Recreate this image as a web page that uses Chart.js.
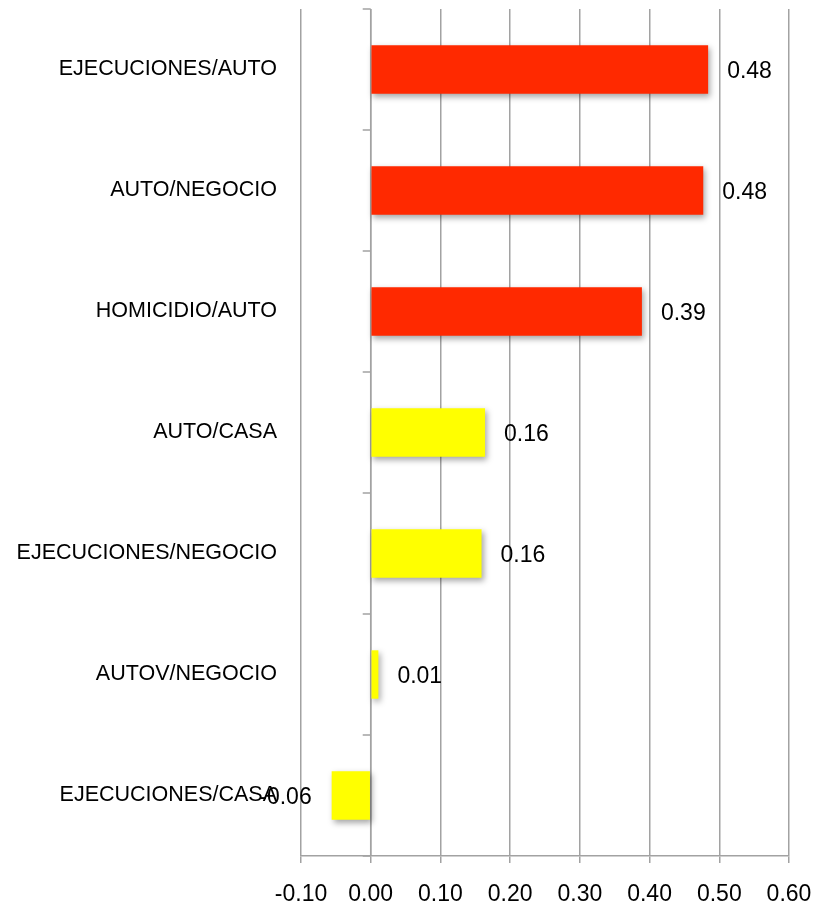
<!DOCTYPE html>
<html>
<head>
<meta charset="utf-8">
<script src="https://cdn.jsdelivr.net/npm/chart.js@4/dist/chart.umd.min.js"></script>
<style>
  body { margin: 0; background: #fff; }
  canvas { display: block; }
</style>
</head>
<body>
<canvas id="barras" width="827" height="904"></canvas>
<script>
// categorias y valores
var categorias = ['EJECUCIONES/AUTO', 'AUTO/NEGOCIO', 'HOMICIDIO/AUTO', 'AUTO/CASA',
                  'EJECUCIONES/NEGOCIO', 'AUTOV/NEGOCIO', 'EJECUCIONES/CASA'];
var valores = [0.484, 0.477, 0.389, 0.164, 0.159, 0.011, -0.056];
var colores = ['#FF2900', '#FF2900', '#FF2900', '#FFFF00', '#FFFF00', '#FFFF00', '#FFFF00'];
var ejeX = [-0.10, 0.00, 0.10, 0.20, 0.30, 0.40, 0.50, 0.60];

var gris = '#a2a2a2';
Chart.defaults.font.family = "'Liberation Sans', Arial, sans-serif";
Chart.defaults.color = '#000';

// sombra bajo las barras
var sombra = {
  id: 'sombra',
  beforeDatasetsDraw: function(chart) {
    var ctx = chart.ctx;
    ctx.save();
    ctx.shadowColor = 'rgba(0,0,0,0.35)';
    ctx.shadowBlur = 6;
    ctx.shadowOffsetX = 2;
    ctx.shadowOffsetY = 3;
  },
  afterDatasetsDraw: function(chart) {
    chart.ctx.restore();
  }
};

// eje vertical en cero con sus marcas
var ejeCero = {
  id: 'ejeCero',
  beforeDatasetsDraw: function(chart) {
    var ctx = chart.ctx;
    var x0 = chart.scales.x.getPixelForValue(0);
    var y = chart.scales.y;
    ctx.save();
    ctx.strokeStyle = gris;
    ctx.lineWidth = 1.5;
    ctx.beginPath();
    ctx.moveTo(x0, chart.chartArea.top);
    ctx.lineTo(x0, chart.chartArea.bottom);
    for (var i = 0; i <= categorias.length; i++) {
      var py = y.getPixelForValue(i - 0.5);
      ctx.moveTo(x0 - 8, py);
      ctx.lineTo(x0, py);
    }
    ctx.stroke();
    ctx.restore();
  }
};

// etiquetas de valor
var etiquetas = {
  id: 'etiquetas',
  afterDatasetsDraw: function(chart) {
    var ctx = chart.ctx;
    var meta = chart.getDatasetMeta(0);
    ctx.save();
    ctx.font = "23px 'Liberation Sans', Arial, sans-serif";
    ctx.fillStyle = '#000';
    ctx.textBaseline = 'middle';
    meta.data.forEach(function(bar, i) {
      var v = valores[i];
      var txt = v.toFixed(2);
      if (v >= 0) {
        ctx.textAlign = 'left';
        ctx.fillText(txt, bar.x + 19, bar.y + 2);
      } else {
        ctx.textAlign = 'right';
        ctx.fillText(txt, bar.x - 20, bar.y + 2);
      }
    });
    ctx.restore();
  }
};

var grafica = new Chart(document.getElementById('barras'), {
  type: 'bar',
  data: {
    labels: categorias,
    datasets: [{
      data: valores,
      backgroundColor: colores,
      borderWidth: 0,
      barPercentage: 0.4,
      categoryPercentage: 1
    }]
  },
  options: {
    indexAxis: 'y',
    responsive: false,
    animation: false,
    devicePixelRatio: 1,
    layout: { padding: { top: 9, right: 38, bottom: 0, left: 0 } },
    plugins: {
      legend: { display: false },
      tooltip: { enabled: false }
    },
    scales: {
      x: {
        min: ejeX[0],
        max: ejeX[ejeX.length - 1],
        afterBuildTicks: function(scale) {
          scale.ticks = ejeX.map(function(v) { return { value: v }; });
        },
        afterFit: function(scale) {
          scale.height = 48;
          scale.paddingLeft = 0;
          scale.paddingRight = 0;
        },
        ticks: {
          font: { size: 23 },
          padding: 18,
          callback: function(v) { return Number(v).toFixed(2); }
        },
        grid: { color: gris, lineWidth: 1.5, tickLength: 7 },
        border: { color: gris, width: 1.5 }
      },
      y: {
        afterFit: function(scale) {
          scale.width = 301;
          scale.paddingTop = 0;
          scale.paddingBottom = 0;
        },
        ticks: { font: { size: 21.5 }, padding: 24 },
        grid: { display: false, drawTicks: false },
        border: { display: false }
      }
    }
  },
  plugins: [ejeCero, sombra, etiquetas]
});
</script>
</body>
</html>
